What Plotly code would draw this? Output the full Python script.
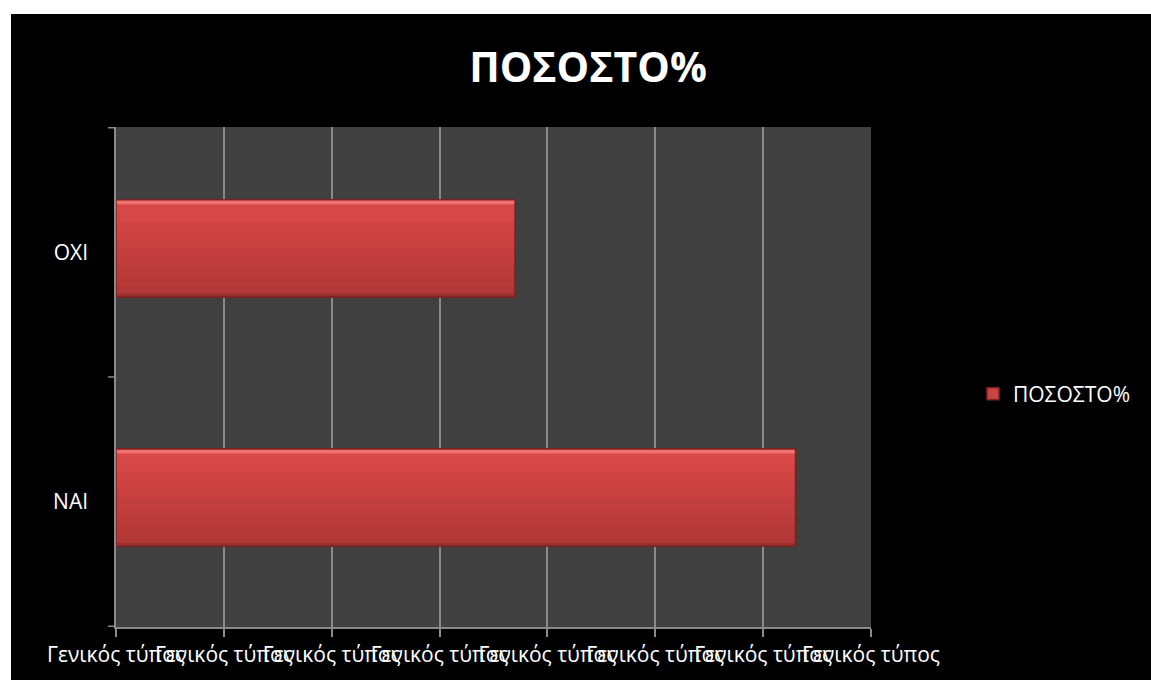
import plotly.graph_objects as go

categories = ["NAI", "OXI"]
values = [0.63, 0.37]
series_name = "ΠΟΣΟΣΤΟ%"
tick_values = [0, 0.1, 0.2, 0.3, 0.4, 0.5, 0.6, 0.7]
tick_labels = ["Γενικός τύπος"] * len(tick_values)

W, H = 1151, 680
L, R, T, B = 116, 280, 127, 53
pw, ph = W - L - R, H - T - B

def px_x(p):
    return (p - L) / pw

def px_y(p):
    return (H - B - p) / ph

BAR_W = 0.39
HALF = BAR_W / 2
SHIFT = 0.016  # bars sit slightly above the category centre

fig = go.Figure()
# main bar (carries the legend entry)
fig.add_trace(go.Bar(
    y=categories, x=values, orientation="h", name=series_name,
    width=BAR_W, offset=-HALF + SHIFT,
    marker=dict(color="#cc4442", line=dict(color="#7d2524", width=1.5)),
    showlegend=True,
))

# shading bands to mimic the bevelled gradient
def hexmix(c1, c2, t):
    a = [int(c1[i:i + 2], 16) for i in (1, 3, 5)]
    b = [int(c2[i:i + 2], 16) for i in (1, 3, 5)]
    return "#" + "".join(f"{round(a[k] + (b[k] - a[k]) * t):02x}" for k in range(3))

inner_top, inner_bot = HALF - 0.018, -HALF + 0.014
nb = 10
step = (inner_top - inner_bot) / nb
for i in range(nb):
    lo = inner_bot + i * step
    col = hexmix("#b23737", "#d94848", i / (nb - 1))
    fig.add_trace(go.Bar(
        y=categories, x=values, orientation="h", width=step * 1.02, offset=lo + SHIFT,
        marker=dict(color=col, line=dict(width=0)), showlegend=False, hoverinfo="skip",
    ))
fig.add_trace(go.Bar(
    y=categories, x=values, orientation="h", width=HALF - inner_top, offset=inner_top + SHIFT,
    marker=dict(color="#f07270", line=dict(width=0)), showlegend=False, hoverinfo="skip",
))
fig.add_trace(go.Bar(
    y=categories, x=values, orientation="h", width=inner_bot + HALF, offset=-HALF + SHIFT,
    marker=dict(color="#96302e", line=dict(width=0)), showlegend=False, hoverinfo="skip",
))
# outline on top
fig.add_trace(go.Bar(
    y=categories, x=values, orientation="h", width=BAR_W, offset=-HALF + SHIFT,
    marker=dict(color="rgba(0,0,0,0)", line=dict(color="#7a2221", width=1.5)),
    showlegend=False, hoverinfo="skip",
))

font_family = "Open Sans"
fig.update_layout(
    width=W, height=H, autosize=False,
    margin=dict(l=L, r=R, t=T, b=B, pad=0, autoexpand=False),
    paper_bgcolor="black",
    plot_bgcolor="#404040",
    font=dict(family=font_family, color="white", size=21),
    barmode="overlay",
    title=dict(text="<b>ΠΟΣΟΣΤΟ%</b>", x=588 / W, xanchor="center",
               y=1 - 68 / H, yanchor="middle",
               font=dict(size=41, color="white", family=font_family)),
    showlegend=True,
    legend=dict(x=px_x(973), xanchor="left", y=px_y(394), yanchor="middle",
                bgcolor="rgba(0,0,0,0)", font=dict(size=21, color="white", family=font_family),
                itemwidth=30),
    xaxis=dict(range=[0, 0.7], tickvals=tick_values, ticktext=tick_labels,
               tickangle=0, automargin=False,
               showgrid=True, gridcolor="#8a8a8a", gridwidth=1.5,
               showline=True, linecolor="#8a8a8a", linewidth=1.5,
               ticks="outside", ticklen=8, tickcolor="#8a8a8a", tickwidth=1.5,
               tickfont=dict(size=21, color="white", family=font_family),
               zeroline=False, fixedrange=True),
    yaxis=dict(categoryorder="array", categoryarray=categories, automargin=False,
               showline=True, linecolor="#8a8a8a", linewidth=1.5,
               ticks="", showgrid=False,
               tickfont=dict(size=21, color="white", family=font_family),
               ticklabelstandoff=22, fixedrange=True),
)

# Category boundary tick marks on y-axis
for yb in [-0.5, 0.5, 1.5]:
    fig.add_shape(type="line", xref="paper", yref="y", x0=px_x(108), x1=0, y0=yb, y1=yb,
                  line=dict(color="#8a8a8a", width=1.5))

# White strips at top and left (chart frame offset)
fig.add_shape(type="rect", xref="paper", yref="paper", x0=px_x(-2), x1=px_x(1160),
              y0=px_y(14), y1=px_y(-2), fillcolor="white", line=dict(width=0), layer="above")
fig.add_shape(type="rect", xref="paper", yref="paper", x0=px_x(-2), x1=px_x(11),
              y0=px_y(690), y1=px_y(-2), fillcolor="white", line=dict(width=0), layer="above")

fig.write_html(
    "out.html",
    config={"displayModeBar": False},
    post_script="document.body.style.margin='0';document.body.style.overflow='hidden';",
)
